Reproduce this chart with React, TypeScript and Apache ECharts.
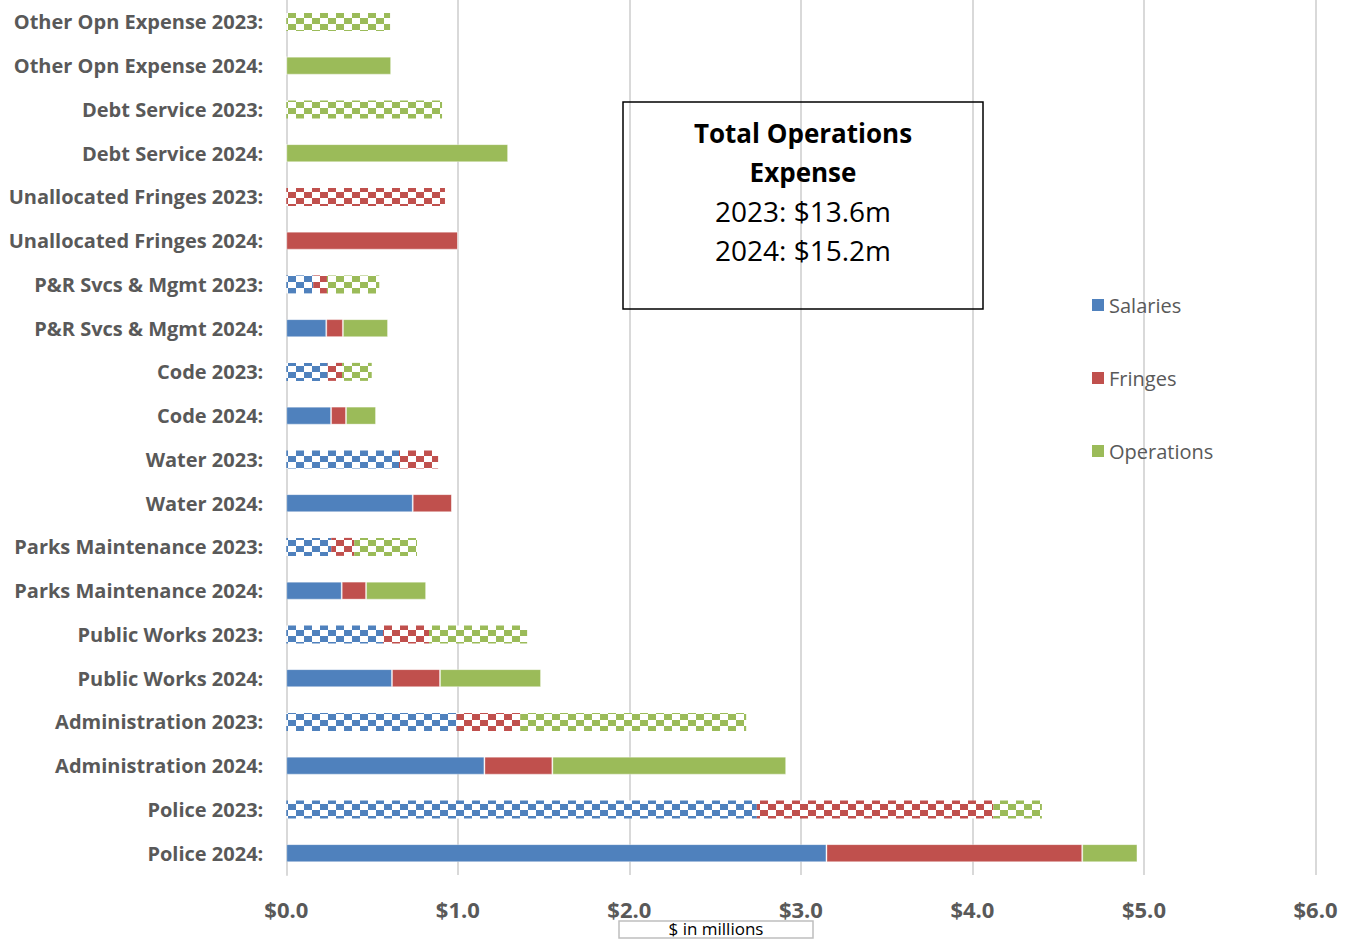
import React, { useEffect, useRef } from "react";
import * as echarts from "echarts";

const categories = [
  "Other Opn Expense 2023:",
  "Other Opn Expense 2024:",
  "Debt Service 2023:",
  "Debt Service 2024:",
  "Unallocated Fringes 2023:",
  "Unallocated Fringes 2024:",
  "P&R Svcs & Mgmt 2023:",
  "P&R Svcs & Mgmt 2024:",
  "Code 2023:",
  "Code 2024:",
  "Water 2023:",
  "Water 2024:",
  "Parks Maintenance 2023:",
  "Parks Maintenance 2024:",
  "Public Works 2023:",
  "Public Works 2024:",
  "Administration 2023:",
  "Administration 2024:",
  "Police 2023:",
  "Police 2024:",
];

const salaries = [0, 0, 0, 0, 0, 0, 0.157, 0.233, 0.241, 0.261, 0.657, 0.737, 0.262, 0.323, 0.564, 0.616, 0.993, 1.155, 2.743, 3.149];
const fringes = [0, 0, 0, 0, 0.925, 1.001, 0.08, 0.097, 0.084, 0.087, 0.228, 0.229, 0.134, 0.142, 0.268, 0.28, 0.371, 0.396, 1.379, 1.491];
const operations = [0.605, 0.611, 0.908, 1.293, 0, 0, 0.305, 0.263, 0.173, 0.175, 0, 0, 0.366, 0.35, 0.572, 0.589, 1.317, 1.363, 0.283, 0.322];

const xTicks = [0, 1, 2, 3, 4, 5, 6];
const seriesNames = ["Salaries", "Fringes", "Operations"];
const seriesColors = ["#4F81BD", "#C0504D", "#9BBB59"];
const boxLines = ["Total Operations", "Expense", "2023: $13.6m", "2024: $15.2m"];
const axisTitle = "$ in millions";

const FONT = "Open Sans";
const GRID_TOP = -2;
const GRID_H = 877;
const BAR_W = 18;

function checker(color: string) {
  const c = document.createElement("canvas");
  c.width = 16;
  c.height = 12;
  const ctx = c.getContext("2d")!;
  ctx.fillStyle = "#ffffff";
  ctx.fillRect(0, 0, 16, 12);
  ctx.fillStyle = color;
  ctx.fillRect(0, 0, 8, 6);
  ctx.fillRect(8, 6, 8, 6);
  return c;
}

export default function App() {
  const ref = useRef<HTMLDivElement>(null);
  useEffect(() => {
    const chart = echarts.init(ref.current!, null, { renderer: "svg" });
    const band = GRID_H / categories.length;
    const patterns = seriesColors.map((c) => checker(c));
    const valueSets = [salaries, fringes, operations];
    const series = seriesNames.map((name, s) => ({
      name,
      type: "bar",
      stack: "total",
      barWidth: BAR_W,
      itemStyle: { color: seriesColors[s] },
      emphasis: { disabled: true },
      data: valueSets[s].map((v, i) => {
        const is2023 = categories[i].indexOf("2023") >= 0;
        if (is2023) {
          const barTop = GRID_TOP + band * i + band / 2 - BAR_W / 2;
          return {
            value: v,
            itemStyle: {
              color: {
                image: patterns[s],
                repeat: "repeat",
                imageWidth: 16,
                imageHeight: 12,
                x: 283,
                y: barTop,
              },
              borderWidth: 0,
            },
          };
        }
        return {
          value: v,
          itemStyle: {
            color: seriesColors[s],
            borderColor: "rgba(255,255,255,0.35)",
            borderWidth: 1,
          },
        };
      }),
    }));

    const cx = 803;
    chart.setOption({
      animation: false,
      textStyle: { fontFamily: FONT },
      grid: { left: 286.3, right: 35.5, top: GRID_TOP, height: GRID_H, containLabel: false },
      legend: {
        data: seriesNames,
        orient: "vertical",
        left: 1087,
        top: 290,
        itemWidth: 12,
        itemHeight: 12,
        itemGap: 53,
        icon: "rect",
        textStyle: { fontSize: 20, color: "#595959", fontFamily: FONT, lineHeight: 20 },
      },
      xAxis: {
        type: "value",
        min: xTicks[0],
        max: xTicks[xTicks.length - 1],
        interval: 1,
        axisLine: { show: false },
        axisTick: { show: false },
        splitLine: { lineStyle: { color: "#d9d9d9", width: 2 } },
        axisLabel: {
          margin: 23,
          fontSize: 22,
          fontWeight: "bold",
          color: "#595959",
          fontFamily: FONT,
          formatter: (v: number) => "$" + v.toFixed(1),
        },
      },
      yAxis: {
        type: "category",
        data: categories,
        inverse: true,
        axisLine: { show: true, lineStyle: { color: "#d9d9d9", width: 2 } },
        axisTick: { show: false },
        axisLabel: {
          margin: 23,
          fontSize: 20,
          fontWeight: "bold",
          color: "#595959",
          fontFamily: FONT,
        },
      },
      series,
      graphic: [
        {
          type: "rect",
          shape: { x: 623, y: 102, width: 360, height: 207 },
          style: { fill: "none", stroke: "#000000", lineWidth: 1.5 },
          z: 10,
        },
        ...boxLines.map((t, i) => ({
          type: "text",
          x: cx,
          y: 133 + 39 * i,
          z: 11,
          style: {
            text: t,
            fill: "#000000",
            font: (i < 2 ? "bold 26px " : "28px ") + FONT,
            textAlign: "center",
            textVerticalAlign: "middle",
          },
        })),
        {
          type: "rect",
          shape: { x: 619, y: 921, width: 194, height: 17 },
          style: { fill: "none", stroke: "#bfbfbf", lineWidth: 1.5 },
          z: 10,
        },
        {
          type: "text",
          x: 716,
          y: 928,
          z: 11,
          style: {
            text: axisTitle,
            fill: "#000000",
            font: "17px " + FONT,
            textAlign: "center",
            textVerticalAlign: "middle",
          },
        },
      ],
    });
    return () => chart.dispose();
  }, []);
  return (
    <div
      ref={ref}
      style={{ position: "fixed", left: 0, top: 0, width: 1351, height: 940, background: "#ffffff" }}
    />
  );
}
